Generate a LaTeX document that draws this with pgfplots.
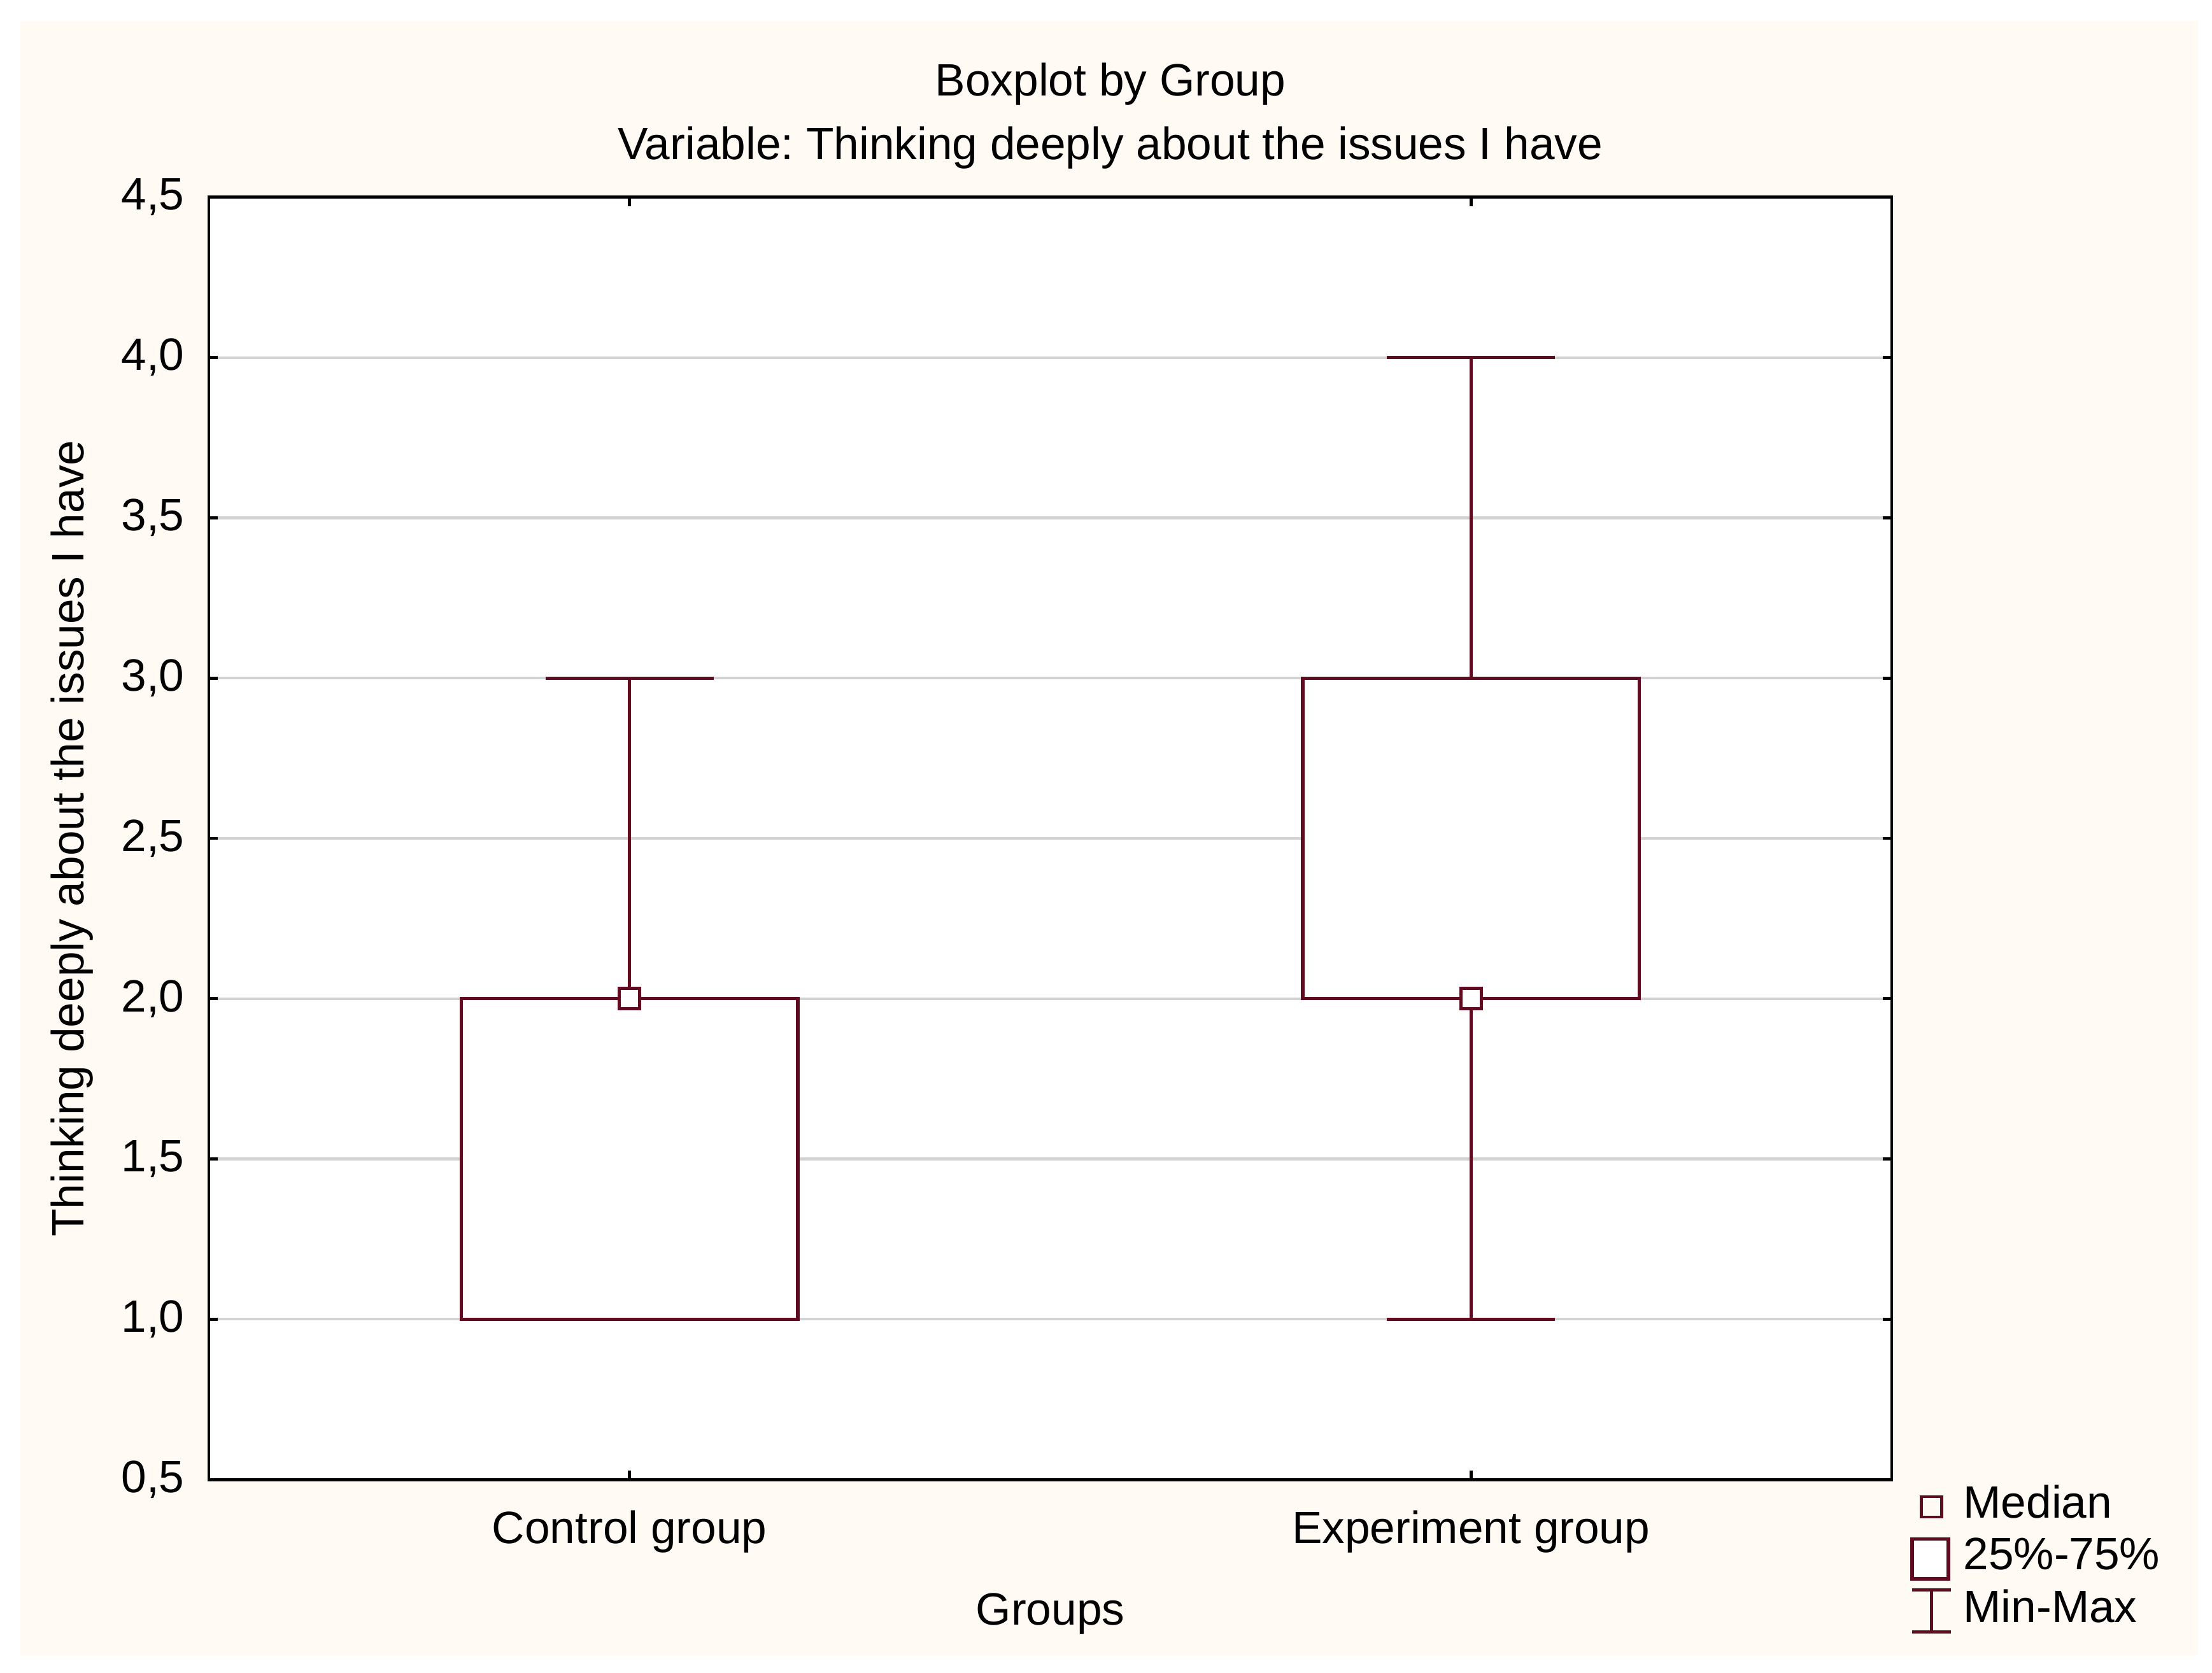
\documentclass[border=0pt]{standalone}
\usepackage{pgfplots}
\pgfplotsset{compat=1.18}
\usepgfplotslibrary{statistics}
\usepackage{fontspec}
\setmainfont{Liberation Sans}
\definecolor{dred}{HTML}{600C20}
\definecolor{cream}{HTML}{FFFAF3}
\definecolor{gridg}{HTML}{D2D2D2}
\frenchspacing
\begin{document}
\begin{tikzpicture}[font=\fontsize{10.25}{12.3}\selectfont]
% page background
\fill[white] (-47.2pt,-43.7pt) rectangle (452.8pt,334.5pt);
\fill[cream] (-42.6pt,-39.9pt) rectangle (449.6pt,329.8pt);
\begin{axis}[
  scale only axis,
  width=380.4pt, height=289.9pt,
  xmin=-0.5, xmax=1.5,
  ymin=0.5, ymax=4.5,
  axis background/.style={fill=white},
  axis line style={black, line width=0.7pt},
  xtick={0,1},
  xticklabels={Control group, Experiment group},
  ytick={0.5,1,1.5,2,2.5,3,3.5,4,4.5},
  /pgf/number format/.cd, use comma, fixed, fixed zerofill, precision=1, assume math mode=true,
  /pgfplots/.cd,
  tick style={black, line width=0.7pt},
  major tick length=2pt,
  tick align=inside,
  ymajorgrids,
  major grid style={gridg, line width=0.6pt},
  yticklabel style={xshift=-2pt},
  xticklabel style={yshift=-3.5pt},
  xlabel={Groups},
  ylabel={Thinking deeply about the issues I have},
  xlabel style={yshift=-2.3pt},
  ylabel style={yshift=-0.5pt},
  clip=false,
  legend style={draw=none, fill=none, at={(axis cs:1.5,0.5)}, anchor=north west,
    xshift=4pt, yshift=0pt, inner sep=0pt, row sep=1.0pt,
    nodes={inner sep=1pt}},
  legend cell align=left,
  boxplot/draw direction=y,
  boxplot/draw/median/.code={},
]
\addplot[forget plot, dred, solid, line width=0.75pt, mark=none, fill=white,
  boxplot prepared={median=2, lower quartile=1, upper quartile=2,
    lower whisker=1, upper whisker=3, draw position=0,
    box extend=0.4, whisker extend=0.2}] coordinates {};
\addplot[forget plot, dred, solid, line width=0.75pt, mark=none, fill=white,
  boxplot prepared={median=2, lower quartile=2, upper quartile=3,
    lower whisker=1, upper whisker=4, draw position=1,
    box extend=0.4, whisker extend=0.2}] coordinates {};
\addplot[forget plot, only marks, mark=square*, mark size=2.3pt, draw=dred, fill=white, line width=0.7pt]
  coordinates {(0,2) (1,2)};
\addlegendimage{legend image code/.code={\draw[dred, line width=0.7pt] (2.1pt,-2.8pt) rectangle (6.7pt,1.8pt); \path (10.4pt,0pt);}}
\addlegendentry{Median}
\addlegendimage{legend image code/.code={\draw[dred, line width=0.8pt, fill=white] (0pt,-5pt) rectangle (8.2pt,4pt); \path (10.4pt,0pt);}}
\addlegendentry{25\%-75\%}
\addlegendimage{legend image code/.code={\draw[dred, line width=0.7pt] (0pt,-5.1pt) -- (8.8pt,-5.1pt) (4.4pt,-5.1pt) -- (4.4pt,4.4pt) (0pt,4.4pt) -- (8.8pt,4.4pt); \path (10.4pt,0pt);}}
\addlegendentry{Min-Max}
\end{axis}
\node[anchor=base] at (203.8pt,312.8pt) {Boxplot by Group};
\node[anchor=base] at (203.8pt,298.5pt) {Variable: Thinking deeply about the issues I have};
\end{tikzpicture}
\end{document}
